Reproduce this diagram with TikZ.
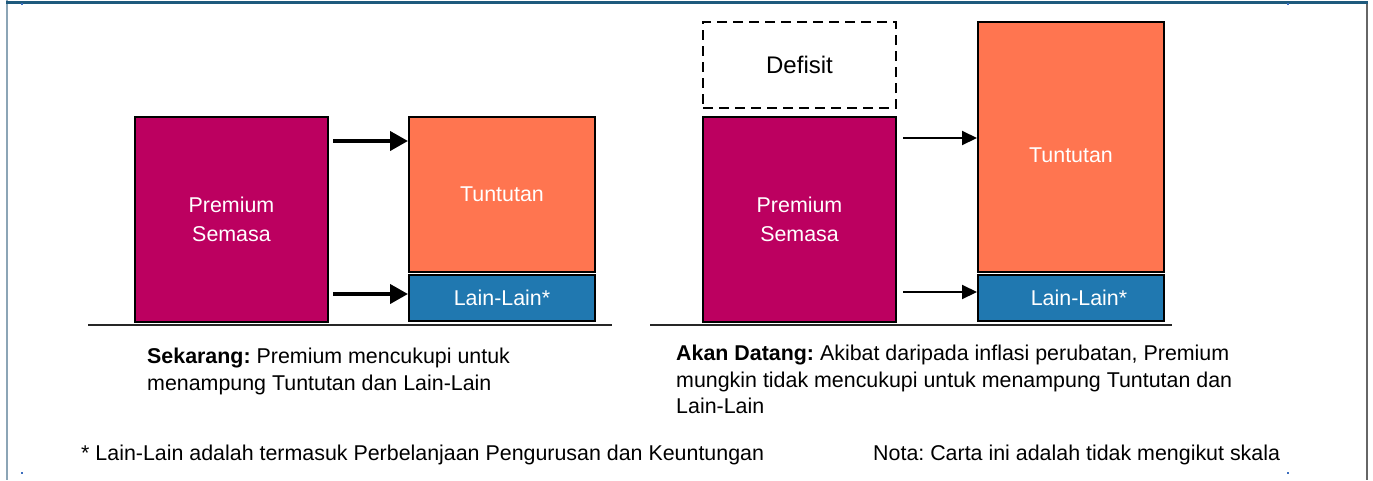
\documentclass[tikz,border=0pt]{standalone}
\usepackage{fontspec}
\setmainfont{Liberation Sans}
\usetikzlibrary{arrows.meta}
\definecolor{premium}{RGB}{188,0,96}
\definecolor{tuntutan}{RGB}{255,117,80}
\definecolor{lain}{RGB}{32,120,176}
\definecolor{frametop}{RGB}{30,90,125}
\definecolor{frameside}{RGB}{140,165,182}
\definecolor{framemark}{RGB}{60,110,190}
\frenchspacing

\begin{document}
\begin{tikzpicture}[x=1pt,y=-1pt,
  every node/.style={font=\fontsize{21.4}{27}\selectfont},
  box/.style={draw=black,line width=2pt,inner sep=0pt,text=white,align=center,
    font=\fontsize{21.4}{29}\selectfont},
  fatarrow/.style={line width=4pt,-{Triangle[length=18pt,width=19pt]}},
  thinarrow/.style={line width=2pt,-{Triangle[length=15pt,width=14pt]}}]
  \useasboundingbox (0,0) rectangle (1373,480);

  % frame
  \draw[frameside,line width=2pt] (7,0) -- (7,480);
  \draw[gray!80!black,line width=1.5pt] (1367,4) -- (1367,480);
  \draw[frametop,line width=3pt] (6,2) -- (1368,2);
  \foreach \x/\y in {22/4,1288/4,22/473,1288/473}
    \fill[framemark] (\x-1,\y-1) rectangle (\x+1,\y+1);

  % sekarang
  \node[box,fill=premium,minimum width=193pt,minimum height=205pt] (premA) at (231.5,219.5) {Premium\\Semasa};
  \node[box,fill=tuntutan,minimum width=186pt,minimum height=155pt] (tuntA) at (502,194.5) {Tuntutan};
  \node[box,fill=lain,minimum width=186pt,minimum height=46pt] (lainA) at (502,298) {Lain-Lain*};
  \coordinate (a1) at (333,141);
  \coordinate (a2) at (333,294);
  \draw[fatarrow] (a1) -- (a1 -| tuntA.west);
  \draw[fatarrow] (a2) -- (a2 -| lainA.west);
  \draw[line width=1.5pt,black!85] (88,325) -- (612,325);

  % akan datang
  \node[box,dash pattern=on 10pt off 6pt,line width=2.5pt,text=black,font=\fontsize{24}{29}\selectfont,minimum width=193pt,minimum height=86pt] (defB) at (799.5,65) {Defisit};
  \node[box,fill=premium,minimum width=193pt,minimum height=205pt] (premB) at (799.5,219.5) {Premium\\Semasa};
  \node[box,fill=tuntutan,minimum width=186pt,minimum height=250pt] (tuntB) at (1071,147) {\raisebox{-15.5pt}[0pt][0pt]{Tuntutan}};
  \node[box,fill=lain,minimum width=186pt,minimum height=46pt] (lainB) at (1071,298) {\hspace*{16pt}Lain-Lain*};
  \coordinate (b1) at (903,138);
  \coordinate (b2) at (903,292);
  \draw[thinarrow] (b1) -- (b1 -| tuntB.west);
  \draw[thinarrow] (b2) -- (b2 -| lainB.west);
  \draw[line width=1.5pt,black!85] (650,325) -- (1172,325);

  % texts
  \node[anchor=north west,align=left,inner sep=0pt] (txtA) at (147,348)
    {\textbf{Sekarang:} Premium mencukupi untuk\\menampung Tuntutan dan Lain-Lain};
  \node[anchor=north west,align=left,inner sep=0pt,font=\fontsize{21.4}{26.5}\selectfont] (txtB) at (676,345)
    {\textbf{Akan Datang:} Akibat daripada inflasi perubatan, Premium\\mungkin tidak mencukupi untuk menampung Tuntutan dan\\Lain-Lain};
  \node[anchor=base west,inner sep=0pt] (nota1) at (81,460.5)
    {* Lain-Lain adalah termasuk Perbelanjaan Pengurusan dan Keuntungan};
  \node[anchor=base west,inner sep=0pt] (nota2) at (873,460.5)
    {Nota: Carta ini adalah tidak mengikut skala};
\end{tikzpicture}
\end{document}
